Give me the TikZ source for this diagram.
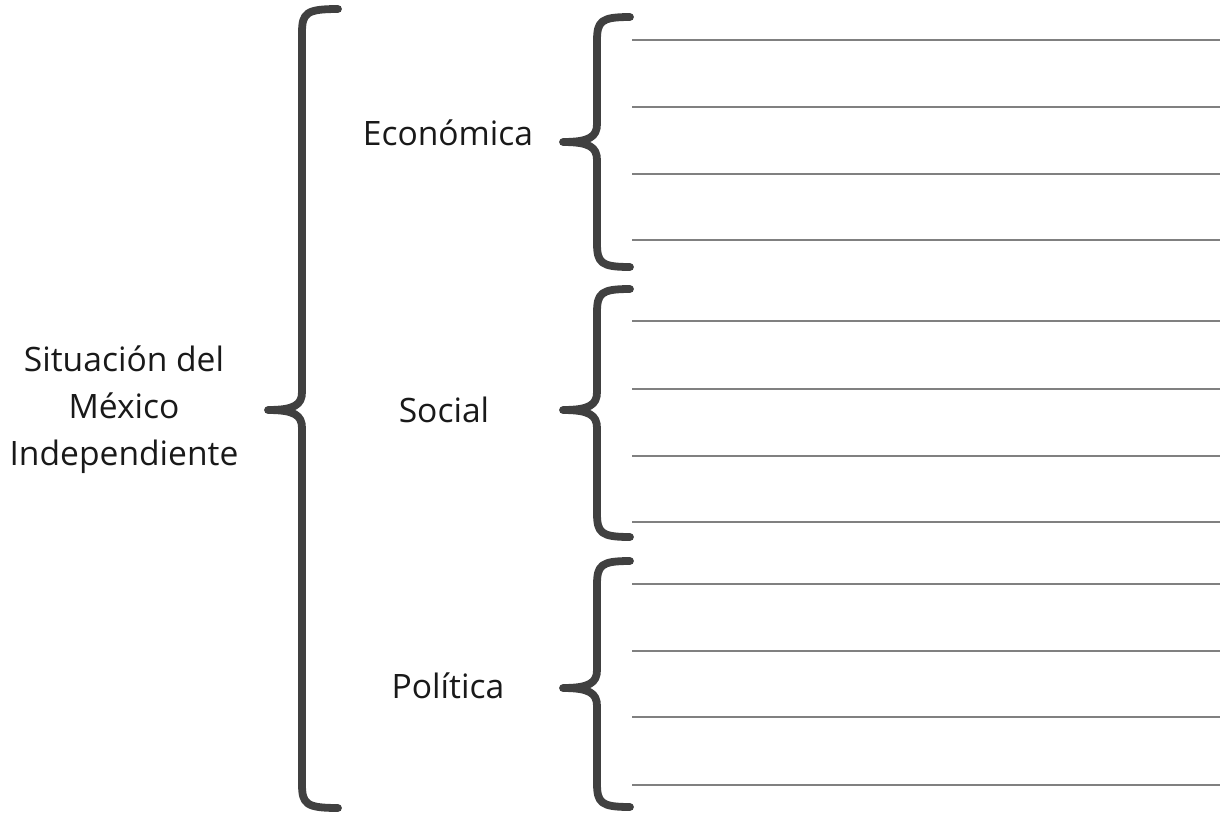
\documentclass[tikz,border=0pt]{standalone}
\usepackage{fontspec}
\setmainfont{Open Sans}
\tikzset{
  llave/.style={line width=3.9pt,draw=black!75,line cap=round,line join=round},
  renglon/.style={line width=0.6pt,draw=black!50},
  etiqueta/.style={font=\fontsize{16.8}{23.5}\selectfont,text=black!90,align=center,inner sep=0pt}
}
% brace: bar x, tip x, top y, tip y, bottom y, arm length
\newcommand{\llave}[6]{%
  \draw[llave] (#1+#6,#3) .. controls (#1+4,#3) and (#1,#3+4) .. (#1,#3+24)
    -- (#1,#4-18) .. controls (#1,#4-5) and (#1-8,#4) .. (#2,#4)
    .. controls (#1-8,#4) and (#1,#4+5) .. (#1,#4+18)
    -- (#1,#5-24) .. controls (#1,#5-4) and (#1+4,#5) .. (#1+#6,#5);}
\begin{document}
\begin{tikzpicture}[x=0.5pt,y=-0.5pt]
  \useasboundingbox (0,0) rectangle (1223,815);
  % main label and brace
  \node[etiqueta] (situacion) at (124,410) {Situación del\\México\\Independiente};
  \llave{302}{268}{9}{410}{808}{36}
  % sub labels
  \node[etiqueta] (economica) at (448,133) {Económica};
  \node[etiqueta] (social) at (444,410) {Social};
  \node[etiqueta] (politica) at (448,686) {Política};
  % small braces
  \llave{597}{563}{17}{142}{267}{33}
  \llave{597}{563}{289}{410}{537}{33}
  \llave{597}{563}{561}{688}{807}{33}
  % writing lines
  \foreach \y in {40,107,174,240,321,389,456,522,584,651,717,785}
    \draw[renglon] (632,\y) -- (1220,\y);
\end{tikzpicture}
\end{document}
